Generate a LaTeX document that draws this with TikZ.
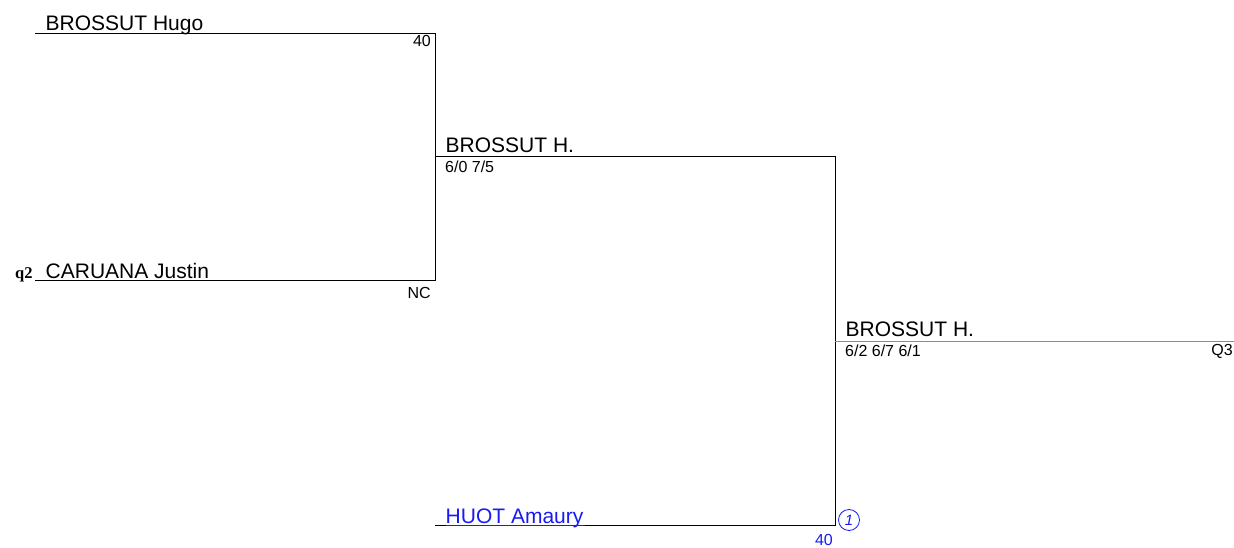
\documentclass[tikz,border=0pt]{standalone}
\usepackage{fontspec}
\setmainfont{Liberation Sans}
\newfontfamily\qfont{Liberation Serif}
\definecolor{linkblue}{RGB}{25,25,245}
\definecolor{finalgray}{RGB}{140,140,140}
\begin{document}
\begin{tikzpicture}[x=1pt,y=-1pt,
  bline/.style={draw=black,line width=0.9pt},
  gline/.style={draw=finalgray,line width=0.9pt},
  pname/.style={inner sep=0pt,anchor=base west,font=\fontsize{21}{24}\selectfont},
  pscore/.style={inner sep=0pt,font=\fontsize{16}{19}\selectfont},
  seed/.style={inner sep=0pt,anchor=base west,font=\qfont\bfseries\fontsize{16.5}{19}\selectfont}]
\useasboundingbox (0,0) rectangle (1234,548);
% coordinates
\coordinate (a1) at (35,33.5);
\coordinate (a2) at (435,33.5);
\coordinate (b1) at (35,280.5);
\coordinate (b2) at (435,280.5);
\coordinate (c1) at (435,156.5);
\coordinate (c2) at (835,156.5);
\coordinate (d1) at (435,525.5);
\coordinate (d2) at (835,525.5);
\coordinate (e1) at (835,341);
\coordinate (e2) at (1234,341);
% lines
\draw[bline] (a1) -- (a2) -- (b2) -- (b1);
\draw[bline] (c1) -- (c2) -- (d2) -- (d1);
\draw[gline] (e1) -- (e2);
% texts round 1
\node[pname] (n1) at (45.5,31) {BROSSUT Hugo};
\node[pscore,anchor=base east] (s1) at (431,47) {40};
\node[seed] (q2) at (15,278) {q2};
\node[pname] (n2) at (45.5,278) {CARUANA Justin};
\node[pscore,anchor=base east] (s2) at (431,298) {NC};
% round 2
\node[pname] (n3) at (445.5,153) {BROSSUT H.};
\node[pscore,anchor=base west] (sc3) at (445,173) {6/0 7/5};
\node[pname,text=linkblue] (n4) at (445.5,523) {HUOT Amaury};
\draw[linkblue,line width=0.8pt] (n4.base west) ++(0,2) -- ++(139,0);
\node[pscore,anchor=base east,text=linkblue] (s4) at (833,545) {40};
\node[circle,draw=linkblue,line width=0.8pt,minimum size=21pt,inner sep=0pt,text=linkblue,font=\itshape\fontsize{15}{17}\selectfont] (seed1) at (849,520) {1};
% final
\node[pname] (n5) at (845.5,336.5) {BROSSUT H.};
\node[pscore,anchor=base west] (sc5) at (845,356.5) {6/2 6/7 6/1};
\node[pscore,anchor=base east] (q3) at (1233,355) {Q3};
\end{tikzpicture}
\end{document}
